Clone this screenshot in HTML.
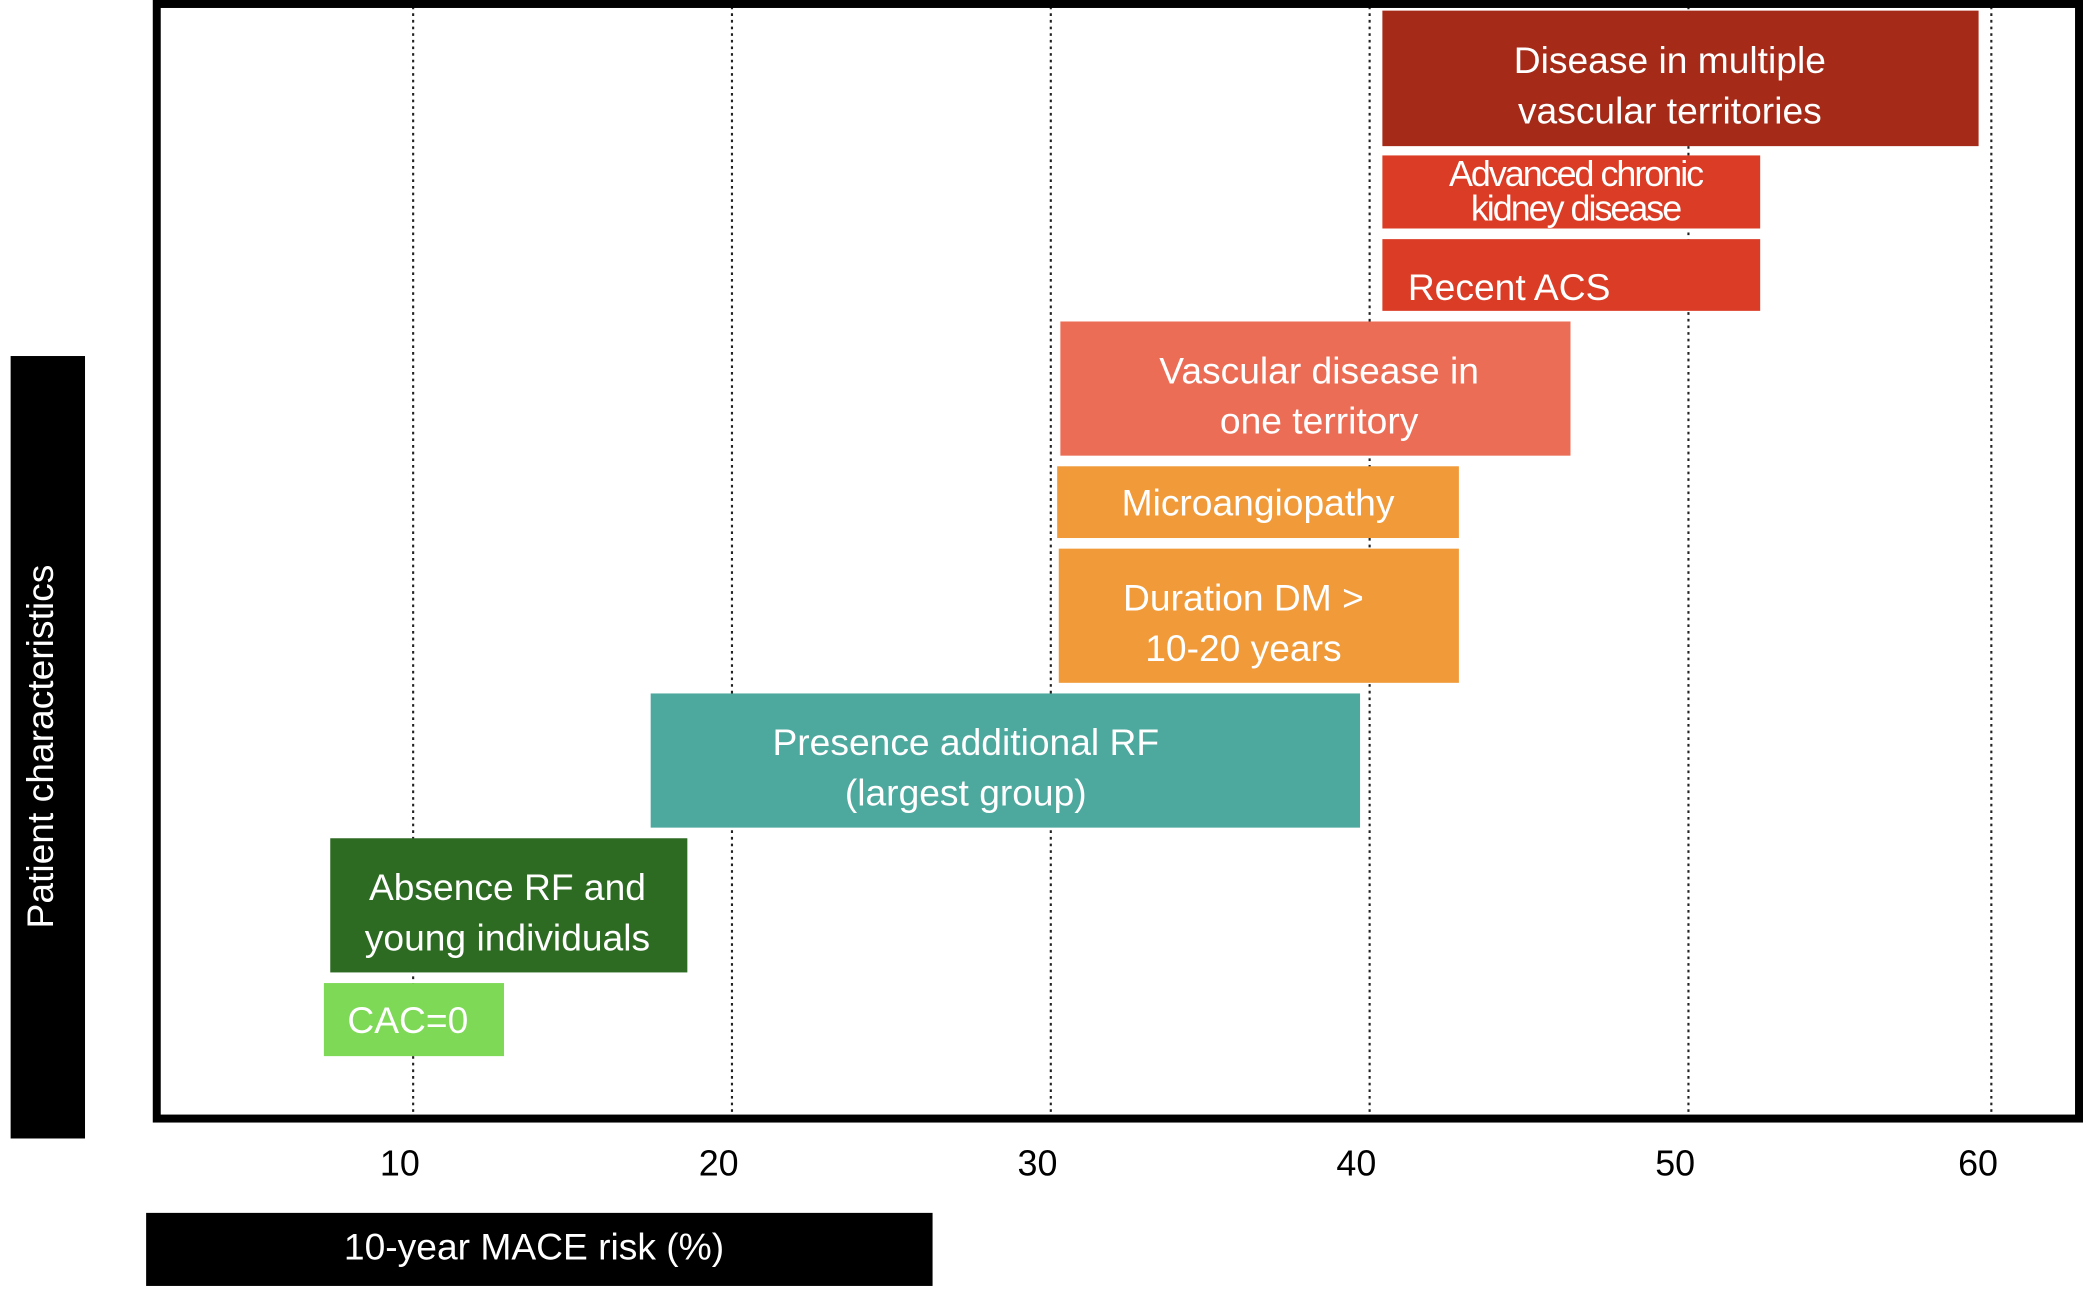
<!DOCTYPE html>
<html><head><meta charset="utf-8"><style>
html,body{margin:0;padding:0;background:#fff;}
svg{display:block;}
text{font-family:"Liberation Sans",sans-serif;}
</style></head><body>
<svg id="chart" width="2083" height="1289" viewBox="0 0 1568 970.3" preserveAspectRatio="none" xmlns="http://www.w3.org/2000/svg">
<rect x="0" y="0" width="1568" height="970.3" fill="#fff"/>
<g id="grid"></g>
<g id="bars"></g>
<rect x="118" y="3" width="1447" height="839" fill="none" stroke="#000" stroke-width="6"/>
<g id="ticks"></g>
<rect x="8" y="268" width="56" height="589" fill="#000"/>
<text x="0" y="0" transform="translate(40,562) rotate(-90)" text-anchor="middle" fill="#fff" font-size="28">Patient characteristics</text>
<rect x="110" y="913" width="592" height="55" fill="#000"/>
<text x="402" y="948" text-anchor="middle" fill="#fff" font-size="28">10-year MACE risk (%)</text>
</svg>
<script>
const categories = ["Disease in multiple|vascular territories","Advanced chronic|kidney disease","Recent ACS","Vascular disease in|one territory","Microangiopathy","Duration DM >|10-20 years","Presence additional RF|(largest group)","Absence RF and|young individuals","CAC=0"];
const riskStart = [40.4, 40.4, 40.4, 30.3, 30.2, 30.25, 17.45, 7.4, 7.2];
const riskEnd = [59.1, 52.25, 52.25, 46.3, 42.8, 42.8, 39.7, 18.6, 12.85];
const tickValues = [10, 20, 30, 40, 50, 59.5];
const tickLabels = ["10", "20", "30", "40", "50", "60"];

const NS = "http://www.w3.org/2000/svg";
function xScale(v){ return 311 + (v - 10) * 24; }
const layout = [
  {y:8,h:102,c:"#a52a18",tx:1257,fs:28,ls:0},
  {y:117,h:55,c:"#db3c26",tx:1186,fs:27,ls:-1.5},
  {y:180,h:54,c:"#db3c26",tx:1136,fs:28,ls:0,single:226},
  {y:242,h:101,c:"#ec6d56",tx:993,fs:28,ls:0},
  {y:351,h:54,c:"#f09a3a",tx:947,fs:28,ls:0},
  {y:413,h:101,c:"#f09a3a",tx:936,fs:28,ls:0},
  {y:522,h:101,c:"#4da89e",tx:727,fs:28,ls:0},
  {y:631,h:101,c:"#2e6b22",tx:382,fs:28,ls:0},
  {y:740,h:55,c:"#7ed957",tx:307,fs:28,ls:0}
];
const grid = document.getElementById('grid');
tickValues.forEach((v,i)=>{
  const l = document.createElementNS(NS,'line');
  
  
  const x = xScale(v);
  l.setAttribute('x1',x); l.setAttribute('x2',x);
  l.setAttribute('y1',5); l.setAttribute('y2',838);
  l.setAttribute('stroke','#222'); l.setAttribute('stroke-width','1.6');
  l.setAttribute('stroke-dasharray','2 3');
  grid.appendChild(l);
  const t = document.createElementNS(NS,'text');
  
  
  t.setAttribute('x', x - 10); t.setAttribute('y', 885);
  t.setAttribute('text-anchor','middle'); t.setAttribute('font-size','27');
  t.textContent = tickLabels[i];
  document.getElementById('ticks').appendChild(t);
});
const bars = document.getElementById('bars');
categories.forEach((cat,i)=>{
  const L = layout[i];
  const x0 = xScale(riskStart[i]), x1 = xScale(riskEnd[i]);
  const r = document.createElementNS(NS,'rect');
  
  
  r.setAttribute('x',x0); r.setAttribute('y',L.y);
  r.setAttribute('width',x1-x0); r.setAttribute('height',L.h);
  r.setAttribute('fill',L.c);
  bars.appendChild(r);
  const lines = cat.split('|');
  lines.forEach((ln,j)=>{
    const t = document.createElementNS(NS,'text');
    
    
    let y;
    if (lines.length === 1) y = L.single || (L.y + L.h/2 + 10);
    else if (L.h < 70) y = L.y + 23 + j*26;
    else y = L.y + L.h/2 - 4 + j*38;
    t.setAttribute('x', L.tx);
    t.setAttribute('y', y);
    t.setAttribute('text-anchor','middle');
    t.setAttribute('fill','#fff');
    t.setAttribute('font-size', L.fs);
    if (L.ls) t.setAttribute('letter-spacing', L.ls);
    t.textContent = ln;
    bars.appendChild(t);
  });
});
</script>
</body></html>
